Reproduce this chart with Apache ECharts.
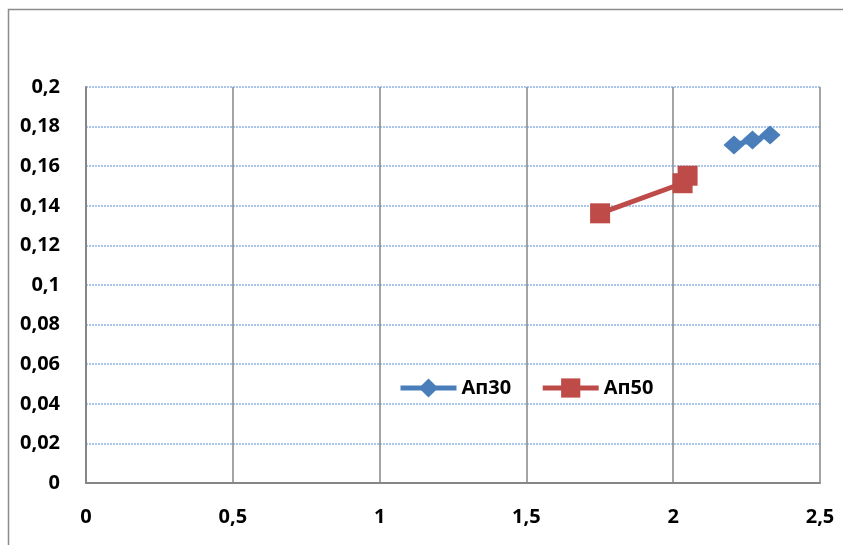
<!DOCTYPE html>
<html>
<head>
<meta charset="utf-8">
<script src="https://cdn.jsdelivr.net/npm/echarts@6/dist/echarts.min.js"></script>
<style>
  html, body { margin: 0; padding: 0; background: #fff; }
  #chart { width: 843px; height: 545px; }
</style>
</head>
<body>
<div id="chart"></div>
<script>
// Series data: [x, y]
const seriesNames = ['Ап30', 'Ап50'];
const ap30 = [[2.207, 0.1707], [2.270, 0.1732], [2.330, 0.1758]];
const ap50 = [[1.751, 0.1362], [2.032, 0.1514], [2.049, 0.1552]];
const colors = ['#4a7ebb', '#be4b48'];

const fmt = v => String(+v.toFixed(2)).replace('.', ',');
const fontFamily = '"Open Sans", Lato, sans-serif';

const chart = echarts.init(document.getElementById('chart'));
chart.setOption({
  animation: false,
  graphic: [{
    type: 'rect',
    shape: { x: 8.5, y: 9.5, width: 900, height: 600 },
    style: { fill: 'none', stroke: '#8c8c8c', lineWidth: 1.5 },
    silent: true
  }],
  grid: { left: 86, top: 87, right: 23, bottom: 62, containLabel: false },
  legend: {
    data: seriesNames,
    left: 398, top: 378, padding: 0,
    itemWidth: 56, itemHeight: 24, itemGap: 29,
    lineStyle: { width: 5 },
    textStyle: { fontFamily, fontWeight: 'bold', fontSize: 20, color: '#000' }
  },
  xAxis: {
    type: 'value', min: 0, max: 2.5, interval: 0.5,
    axisLine: { show: true, lineStyle: { color: '#868686', width: 2 } },
    axisTick: { show: false },
    splitLine: { show: true, lineStyle: { color: '#868686', width: 1.5 } },
    axisLabel: { formatter: fmt, margin: 24, fontFamily, fontWeight: 'bold', fontSize: 20, color: '#000' }
  },
  yAxis: {
    type: 'value', min: 0, max: 0.2, interval: 0.02,
    axisLine: { show: true, lineStyle: { color: '#868686', width: 2 } },
    axisTick: { show: false },
    splitLine: { show: true, lineStyle: { color: '#8eb4e3', width: 1.5, type: [2, 1] } },
    axisLabel: { formatter: fmt, margin: 26, fontFamily, fontWeight: 'bold', fontSize: 20, color: '#000' }
  },
  series: [
    {
      name: seriesNames[0], type: 'line', data: ap30,
      symbol: 'diamond', symbolSize: [21, 19],
      lineStyle: { color: colors[0], width: 5 },
      itemStyle: { color: colors[0] }
    },
    {
      name: seriesNames[1], type: 'line', data: ap50,
      symbol: 'rect', symbolSize: 20,
      lineStyle: { color: colors[1], width: 5 },
      itemStyle: { color: colors[1] }
    }
  ]
});
</script>
</body>
</html>
